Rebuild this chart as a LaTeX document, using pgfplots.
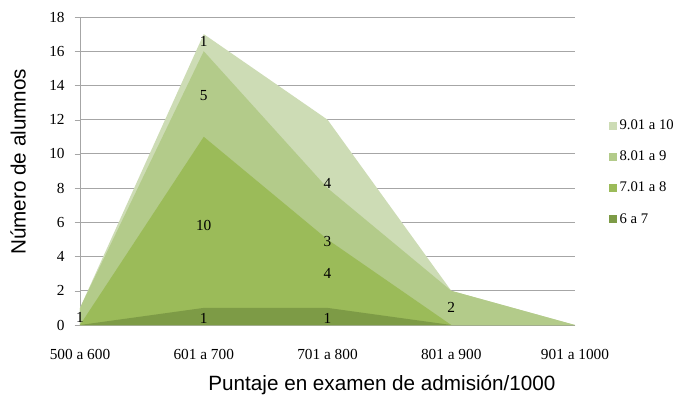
\documentclass[border=0pt]{standalone}
\usepackage{fontspec}
\setmainfont{Liberation Serif}
\newfontfamily\arial{Liberation Sans}
\usepackage{pgfplots}
\pgfplotsset{compat=1.18}

\definecolor{sieteA}{HTML}{7D9B46}
\definecolor{ochoA}{HTML}{9BBB59}
\definecolor{nueveA}{HTML}{B3CB8A}
\definecolor{diezA}{HTML}{CDDCB5}
\definecolor{rejilla}{HTML}{A6A6A6}

\begin{document}
\begin{tikzpicture}
  \useasboundingbox (-60pt,-60pt) rectangle (453pt,243.75pt);
  \begin{axis}[
    scale only axis,
    width=371.25pt, height=231pt,
    at={(0,0)}, anchor=south west,
    xmin=0, xmax=4, ymin=0, ymax=18,
    xtick={0,1,2,3,4},
    xticklabels={500 a 600, 601 a 700, 701 a 800, 801 a 900, 901 a 1000},
    ytick={0,2,...,18},
    axis lines=left,
    axis line style={-, draw=rejilla},
    xtick style={draw=none},
    ytick style={draw=rejilla},
    tick align=outside,
    major tick length=4pt,
    ymajorgrids=true,
    grid style={rejilla, line width=0.6pt},
    /pgf/number format/assume math mode=true,
    tick label style={font=\fontsize{11.5}{13}\selectfont},
    xticklabel style={yshift=-11pt},
    yticklabel style={xshift=-4pt},
    xlabel={\arial Puntaje en examen de admisión/1000},
    ylabel={\arial Número de alumnos},
    label style={font=\fontsize{15.5}{18}\selectfont},
    xlabel style={at={(axis description cs:0.61,-0.195)}, anchor=center},
    ylabel style={at={(axis description cs:-0.125,0.53)}, anchor=center},
    clip=false,
    legend style={draw=none, fill=none, at={(axis description cs:1.06,0.495)},
      anchor=west, row sep=10.5pt, font=\fontsize{11}{13}\selectfont,
      nodes={inner xsep=2pt}},
    legend cell align=left,
    legend image code/.code={\fill[#1] (0pt,-3pt) rectangle (6pt,3pt);},
  ]
    % areas, totals back to front
    \addplot[fill=diezA, draw=none] coordinates {(0,1) (1,17) (2,12) (3,2) (4,0)} \closedcycle;
    \addlegendentry{9.01 a 10}
    \addplot[fill=nueveA, draw=none] coordinates {(0,1) (1,16) (2,8) (3,2) (4,0)} \closedcycle;
    \addlegendentry{8.01 a 9}
    \addplot[fill=ochoA, draw=none] coordinates {(0,0) (1,11) (2,5) (3,0) (4,0)} \closedcycle;
    \addlegendentry{7.01 a 8}
    \addplot[fill=sieteA, draw=none] coordinates {(0,0) (1,1) (2,1) (3,0) (4,0)} \closedcycle;
    \addlegendentry{6 a 7}

    % data labels
    \addplot[draw=none, mark=none, forget plot, nodes near coords,
      point meta=explicit symbolic,
      every node near coord/.append style={anchor=center, font=\fontsize{11.5}{13}\selectfont}]
      coordinates {
        (0,0.45) [1]
        (1,16.55) [1] (1,13.4) [5] (1,5.8) [10] (1,0.4) [1]
        (2,8.3) [4] (2,4.9) [3] (2,3.0) [4] (2,0.4) [1]
        (3,1.0) [2]
      };
  \end{axis}
\end{tikzpicture}
\end{document}
